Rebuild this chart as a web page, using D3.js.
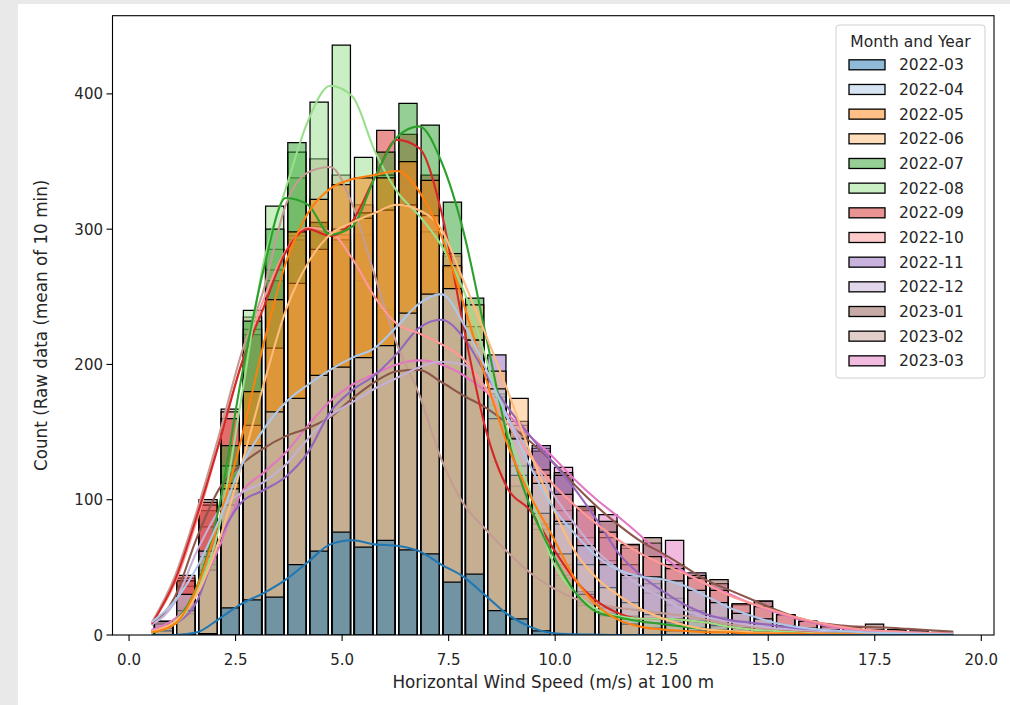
<!DOCTYPE html>
<html>
<head>
<meta charset="utf-8">
<script src="https://cdn.jsdelivr.net/npm/d3@7"></script>
<style>
  html, body { margin: 0; padding: 0; background: #e9e9e9; }
  svg { display: block; }
  text { font-family: "DejaVu Sans", sans-serif; fill: #262626; }
</style>
</head>
<body>
<svg id="chart" width="1010" height="705"></svg>
<script>
// ---- data: wind speed histograms per month (10-min mean, 100 m) ----
const months = ["2022-03","2022-04","2022-05","2022-06","2022-07","2022-08",
                "2022-09","2022-10","2022-11","2022-12","2023-01","2023-02","2023-03"];

// common bin range shared by every month (m/s) and number of bins
const binMin = 0.55, binMax = 19.32, binCount = 36;

// counts per bin, one array per month
const counts2203 = [0,0,1,20,26,28,52,62,76,65,70,63,60,39,45,18,12,3,0,0,0,0,0,0,0,0,0,0,0,0,0,0,0,0,0,0];
const counts2204 = [10,30,62,108,140,165,175,192,198,205,214,238,252,256,218,182,145,112,84,66,52,44,43,40,33,24,16,12,7,5,4,2,2,1,1,1];
const counts2205 = [3,18,58,112,180,248,298,322,333,338,338,350,336,273,218,160,118,90,60,30,15,8,5,3,3,2,1,1,1,0,1,0,0,0,0,0];
const counts2206 = [5,18,48,96,155,212,260,285,300,308,314,318,310,282,244,195,175,118,82,52,35,24,15,9,5,4,2,2,1,1,0,1,0,0,0,0];
const counts2207 = [3,16,58,140,232,300,364,305,292,312,357,393,377,320,249,176,110,78,44,22,14,12,9,7,5,3,2,2,1,1,0,0,0,0,0,0];
const counts2208 = [3,15,52,125,240,317,357,394,436,353,340,318,298,272,228,178,125,82,42,24,16,13,12,12,10,7,5,3,2,1,1,0,0,0,0,0];
const counts2209 = [10,44,98,160,222,262,292,302,296,318,373,370,340,280,188,128,100,82,52,32,20,14,12,12,10,7,5,3,2,2,1,1,0,0,0,0];
const counts2210 = [8,40,96,165,226,270,295,304,290,262,238,226,220,210,194,170,145,122,104,95,76,67,58,49,42,33,23,21,15,10,7,5,4,2,2,1];
const counts2211 = [4,14,45,88,104,110,125,150,175,186,200,218,232,230,212,207,158,140,118,92,72,52,38,27,18,13,10,8,6,4,3,2,2,1,1,0];
const counts2212 = [8,36,80,100,108,118,134,154,168,178,186,194,200,202,193,172,146,118,92,72,55,42,31,22,15,11,8,6,4,3,2,2,1,1,1,0];
const counts2301 = [10,40,92,118,132,142,150,157,168,181,191,196,192,182,172,162,150,136,120,94,84,66,72,52,44,41,23,25,15,10,6,6,8,4,3,2];
const counts2302 = [9,42,100,167,235,285,338,352,340,296,240,196,152,110,86,68,52,40,30,25,21,19,17,15,12,9,7,5,3,2,1,1,1,0,0,0];
const counts2303 = [6,20,45,88,114,126,144,165,180,190,197,202,202,197,186,172,155,138,124,93,89,64,68,70,46,38,22,25,15,10,7,5,4,3,2,1];

// kernel density estimate, scaled to counts, sampled at the bin edges
const kde2203 = [0,0,2,12,23,31,41,54,67,70,67,66,62,52,43,29,15,6,1.5,0.5,0.2,0,0,0,0,0,0,0,0,0,0,0,0,0,0,0,0];
const kde2204 = [10,25,50,85,125,152,172,185,196,205,212,228,245,252,230,197,160,125,95,75,58,48,43,41,36,28,20,14,9,6,4,3,2,1.5,1,0.7,0.5];
const kde2205 = [2,8,35,85,145,215,275,312,330,337,340,343,328,295,245,190,140,103,73,42,22,11,6,4,3,2,2,1,1,1,0.5,0.5,0.3,0.2,0.1,0.1,0.1];
const kde2206 = [3,10,30,70,125,185,240,275,296,305,312,318,314,300,262,222,180,135,95,62,42,29,19,12,7,4,3,2,1.5,1,1,0.5,0.5,0.3,0.2,0.1,0.1];
const kde2207 = [2,10,36,95,190,270,323,318,296,302,338,368,376,350,298,222,145,95,60,32,17,13,10,8,6,4,3,2,1.5,1,0.5,0.3,0.2,0.1,0.1,0,0];
const kde2208 = [2,8,32,80,175,275,330,380,406,398,358,328,310,288,255,205,150,105,55,32,19,14,12,12,11,9,6,4,3,2,1,1,0.5,0.5,0.3,0.2,0.1];
const kde2209 = [9,40,88,142,200,242,283,300,295,306,338,366,360,313,228,152,108,92,65,41,25,16,12,12,11,9,6,4,3,2,1.5,1,1,0.5,0.5,0.3,0.2];
const kde2210 = [10,38,85,142,200,248,284,301,298,278,250,230,223,215,204,182,156,132,112,96,82,70,60,52,45,37,29,23,18,13,9,6,4,3,2,1.5,1];
const kde2211 = [3,8,25,70,98,107,117,135,165,181,192,208,227,233,220,193,168,147,128,108,85,60,44,32,22,15,11,9,7,5,4,3,2,1,1,1,1];
const kde2212 = [8,24,62,92,105,113,126,145,162,172,182,190,198,202,200,183,160,133,105,82,62,48,36,27,18,13,10,7,5,4,3,2,2,1,1,1,0.5];
const kde2301 = [8,28,72,108,126,138,147,153,161,175,187,195,196,187,177,168,156,143,128,111,95,81,69,60,50,40,33,26,19,13,9,7,6,5.5,4.5,3.5,2.5];
const kde2302 = [10,43,92,148,208,255,318,342,346,318,266,215,178,130,97,78,61,46,35,27,23,20,18,16,14,11,8,6,4,3,2,1,1,1,0.5,0.5,0.5];
const kde2303 = [4,12,30,65,105,120,135,155,173,185,193,200,203,200,192,180,163,147,132,115,100,87,73,58,46,37,30,23,17,12,8,5,3.5,2.5,2,1.5,1];

const xTicks = [0, 2.5, 5, 7.5, 10, 12.5, 15, 17.5, 20];
const yTicks = [0, 100, 200, 300, 400];

// tab20 palette
const palette = ["#1f77b4","#aec7e8","#ff7f0e","#ffbb78","#2ca02c","#98df8a",
                 "#d62728","#ff9896","#9467bd","#c5b0d5","#8c564b","#c49c94","#e377c2"];

const countsByMonth = [counts2203,counts2204,counts2205,counts2206,counts2207,counts2208,
                       counts2209,counts2210,counts2211,counts2212,counts2301,counts2302,counts2303];
const kdeByMonth = [kde2203,kde2204,kde2205,kde2206,kde2207,kde2208,
                    kde2209,kde2210,kde2211,kde2212,kde2301,kde2302,kde2303];

const series = months.map((m, i) => ({
  month: m, color: palette[i], counts: countsByMonth[i], kde: kdeByMonth[i]
}));

const edges = d3.range(binCount + 1).map(i => binMin + i * (binMax - binMin) / binCount);

// ---- layout ----
const svg = d3.select("#chart");
svg.append("rect").attr("x", 18).attr("y", 4).attr("width", 992).attr("height", 701).attr("fill", "#fff");

const plot = { left: 112.5, right: 994, top: 15.7, bottom: 635 };
const span = binMax - binMin;
const x = d3.scaleLinear()
  .domain([binMin - 0.05 * span, binMax + 0.05 * span + 0.04])
  .range([plot.left, plot.right]);
const yMax = d3.max(series, s => d3.max(s.counts)) * 1.05;
const y = d3.scaleLinear().domain([0, yMax]).range([plot.bottom, plot.top]);

svg.append("clipPath").attr("id", "plotClip")
  .append("rect").attr("x", plot.left).attr("y", plot.top)
  .attr("width", plot.right - plot.left).attr("height", plot.bottom - plot.top);

const gPlot = svg.append("g").attr("clip-path", "url(#plotClip)");

// bars: later months first, so the earliest month ends on top
const inset = 2.0;
const drawOrder = series.slice().reverse();
const gBars = gPlot.append("g");
drawOrder.forEach(s => {
  gBars.append("g")
    .selectAll("path")
    .data(s.counts)
    .join("path")
    .attr("d", (c, i) => {
      const x0 = x(edges[i]) + inset, x1 = x(edges[i + 1]) - inset;
      const y0 = y(0), y1 = y(c);
      return `M${x0},${y0}V${y1}H${x1}V${y0}Z`;
    })
    .attr("fill", s.color)
    .attr("fill-opacity", 0.5)
    .attr("stroke", "#000")
    .attr("stroke-width", 1.25);
});

// density lines
const line = d3.line()
  .x((d, i) => x(edges[i]))
  .y(d => y(d))
  .curve(d3.curveMonotoneX);
const gLines = gPlot.append("g");
drawOrder.forEach(s => {
  gLines.append("path")
    .datum(s.kde)
    .attr("d", line)
    .attr("fill", "none")
    .attr("stroke", s.color)
    .attr("stroke-width", 2.1)
    .attr("stroke-linecap", "square")
    .attr("stroke-linejoin", "round");
});

// frame
svg.append("rect")
  .attr("x", plot.left).attr("y", plot.top)
  .attr("width", plot.right - plot.left).attr("height", plot.bottom - plot.top)
  .attr("fill", "none").attr("stroke", "#000").attr("stroke-width", 1.1);

// axes
const tickLen = 6;
const gx = svg.append("g");
xTicks.forEach(t => {
  gx.append("line").attr("x1", x(t)).attr("x2", x(t))
    .attr("y1", plot.bottom).attr("y2", plot.bottom + tickLen)
    .attr("stroke", "#000").attr("stroke-width", 1.1);
  gx.append("text").attr("x", x(t)).attr("y", 665)
    .attr("text-anchor", "middle").attr("font-size", 15)
    .text(d3.format(".1f")(t));
});
const gy = svg.append("g");
yTicks.forEach(t => {
  gy.append("line").attr("x1", plot.left - tickLen).attr("x2", plot.left)
    .attr("y1", y(t)).attr("y2", y(t))
    .attr("stroke", "#000").attr("stroke-width", 1.1);
  gy.append("text").attr("x", plot.left - tickLen - 3.5).attr("y", y(t) + 5.5)
    .attr("text-anchor", "end").attr("font-size", 15)
    .text(t);
});

svg.append("text")
  .attr("x", (plot.left + plot.right) / 2).attr("y", 688)
  .attr("text-anchor", "middle").attr("font-size", 16.8)
  .text("Horizontal Wind Speed (m/s) at 100 m");

svg.append("text")
  .attr("transform", `translate(47,${(plot.top + plot.bottom) / 2}) rotate(-90)`)
  .attr("text-anchor", "middle").attr("font-size", 16.8)
  .text("Count (Raw data (mean of 10 min)");

// legend
const lg = svg.append("g");
lg.append("rect").attr("x", 836).attr("y", 25).attr("width", 149).attr("height", 353)
  .attr("rx", 3).attr("fill", "#fff").attr("fill-opacity", 0.8)
  .attr("stroke", "#d0d0d0").attr("stroke-width", 1);
lg.append("text").attr("x", 910.5).attr("y", 46.5).attr("text-anchor", "middle")
  .attr("font-size", 15.5).text("Month and Year");
series.forEach((s, i) => {
  const cy = 64.8 + i * 24.67;
  lg.append("rect").attr("x", 849).attr("y", cy - 5).attr("width", 36).attr("height", 10)
    .attr("fill", s.color).attr("fill-opacity", 0.5)
    .attr("stroke", "#000").attr("stroke-width", 1.3);
  lg.append("text").attr("x", 899).attr("y", cy + 5.5).attr("font-size", 15.5).text(s.month);
});
</script>
</body>
</html>
